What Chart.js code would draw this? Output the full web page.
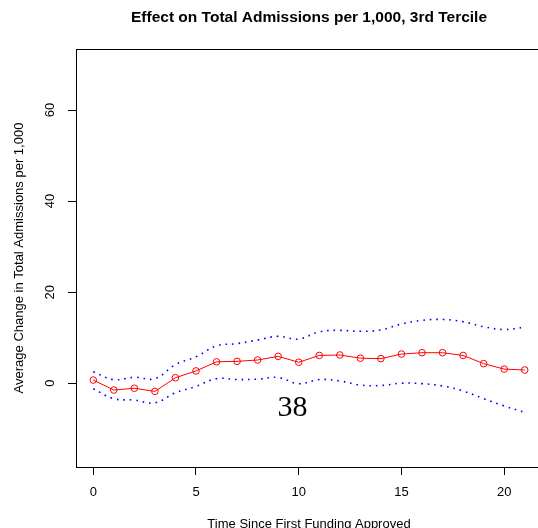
<!DOCTYPE html>
<html>
<head>
<meta charset="utf-8">
<script src="https://cdn.jsdelivr.net/npm/chart.js@4.4.1/dist/chart.umd.min.js"></script>
<style>
  html, body { margin: 0; padding: 0; background: #fff; overflow: hidden; }
  #wrap { width: 538px; height: 528px; overflow: hidden; position: relative; }
  canvas { position: absolute; left: 0; top: 0; }
</style>
</head>
<body>
<div id="wrap"><canvas id="effectChart" width="560" height="540"></canvas></div>
<script>
const chartTitle = 'Effect on Total Admissions per 1,000, 3rd Tercile';
const xTitle = 'Time Since First Funding Approved';
const yTitle = 'Average Change in Total Admissions per 1,000';

const years = [0, 1, 2, 3, 4, 5, 6, 7, 8, 9, 10, 11, 12, 13, 14, 15, 16, 17, 18, 19, 20, 21];
const estimate = [0.7, -1.5, -1.1, -1.8, 1.2, 2.7, 4.7, 4.8, 5.1, 5.9, 4.6, 6.1, 6.2, 5.5, 5.4, 6.4, 6.7, 6.7, 6.1, 4.3, 3.1, 2.9];
const upperBand = [2.5, 0.8, 1.3, 1.0, 4.1, 5.8, 8.2, 8.7, 9.5, 10.3, 9.7, 11.3, 11.6, 11.4, 11.7, 13.0, 13.8, 14.0, 13.5, 12.4, 11.8, 12.3];
const lowerBand = [-1.2, -3.4, -3.7, -4.3, -2.1, -0.7, 1.0, 0.8, 0.9, 1.25, -0.1, 0.8, 0.5, -0.4, -0.5, 0.0, -0.1, -0.6, -1.7, -3.4, -5.0, -6.4];

const xTicks = [0, 5, 10, 15, 20];
const yTicks = [0, 20, 40, 60];
const xRange = [-0.84, 21.84];
const yRange = [-18.4, 73.4];

const noteText = '38';
const notePos = [9.7, -7.25];

const toPoints = (vals) => years.map((x, i) => ({ x: x, y: vals[i] }));

// box around the plot, main title and the stray label
const frameAndText = {
    id: 'frameAndText',
    afterDraw(chart) {
        const { ctx, chartArea: a, scales } = chart;
        ctx.save();
        ctx.strokeStyle = '#000';
        ctx.lineWidth = 1;
        const l = Math.round(a.left) + 0.5, t = Math.round(a.top) + 0.5;
        const r = Math.round(a.right) + 0.5, b = Math.round(a.bottom) + 0.5;
        ctx.strokeRect(l, t, r - l, b - t);
        ctx.fillStyle = '#000';
        ctx.textAlign = 'center';
        ctx.textBaseline = 'alphabetic';
        ctx.font = 'bold 15.5px "Liberation Sans", Arial, sans-serif';
        ctx.fillText(chartTitle, (a.left + a.right) / 2, 22);
        ctx.font = '30px "Liberation Serif", "DejaVu Serif", serif';
        ctx.fillText(noteText, scales.x.getPixelForValue(notePos[0]), scales.y.getPixelForValue(notePos[1]));
        ctx.restore();
    }
};

Chart.defaults.font.family = '"Liberation Sans", Arial, sans-serif';
Chart.defaults.font.size = 13;
Chart.defaults.color = '#000';

const ctx = document.getElementById('effectChart').getContext('2d');

new Chart(ctx, {
    type: 'line',
    data: {
        datasets: [
            {
                label: 'Estimate',
                data: toPoints(estimate),
                borderColor: '#ff0000',
                borderWidth: 1,
                pointRadius: 3.3,
                pointBorderWidth: 1,
                pointBorderColor: '#ff0000',
                pointBackgroundColor: 'rgba(0,0,0,0)',
                tension: 0
            },
            {
                label: 'Upper',
                data: toPoints(upperBand),
                borderColor: '#0000ff',
                borderWidth: 1.6,
                borderDash: [1.6, 4.9],
                pointRadius: 0,
                tension: 0.4
            },
            {
                label: 'Lower',
                data: toPoints(lowerBand),
                borderColor: '#0000ff',
                borderWidth: 1.6,
                borderDash: [1.6, 4.9],
                pointRadius: 0,
                tension: 0.4
            }
        ]
    },
    options: {
        responsive: false,
        animation: false,
        layout: { padding: { top: 49, right: 18, bottom: 0, left: 0 } },
        scales: {
            x: {
                type: 'linear',
                min: xRange[0],
                max: xRange[1],
                afterBuildTicks: (s) => { s.ticks = xTicks.map(v => ({ value: v })); },
                afterFit: (s) => { s.height = 540 - 467; },
                grid: { drawOnChartArea: false, drawTicks: true, tickLength: 8, color: '#000' },
                border: { display: false },
                ticks: { padding: 10, maxRotation: 0 },
                title: { display: true, text: xTitle, padding: { top: 0, bottom: 7.4 } }
            },
            y: {
                type: 'linear',
                min: yRange[0],
                max: yRange[1],
                afterBuildTicks: (s) => { s.ticks = yTicks.map(v => ({ value: v })); },
                afterFit: (s) => { s.width = 76; },
                grid: { drawOnChartArea: false, drawTicks: true, tickLength: 8, color: '#000' },
                border: { display: false },
                ticks: { minRotation: 90, maxRotation: 90, crossAlign: 'center', padding: 10 },
                title: { display: true, text: yTitle, padding: { top: 12, bottom: 0 } }
            }
        },
        plugins: {
            legend: { display: false },
            tooltip: { enabled: false }
        }
    },
    plugins: [frameAndText]
});
</script>
</body>
</html>
